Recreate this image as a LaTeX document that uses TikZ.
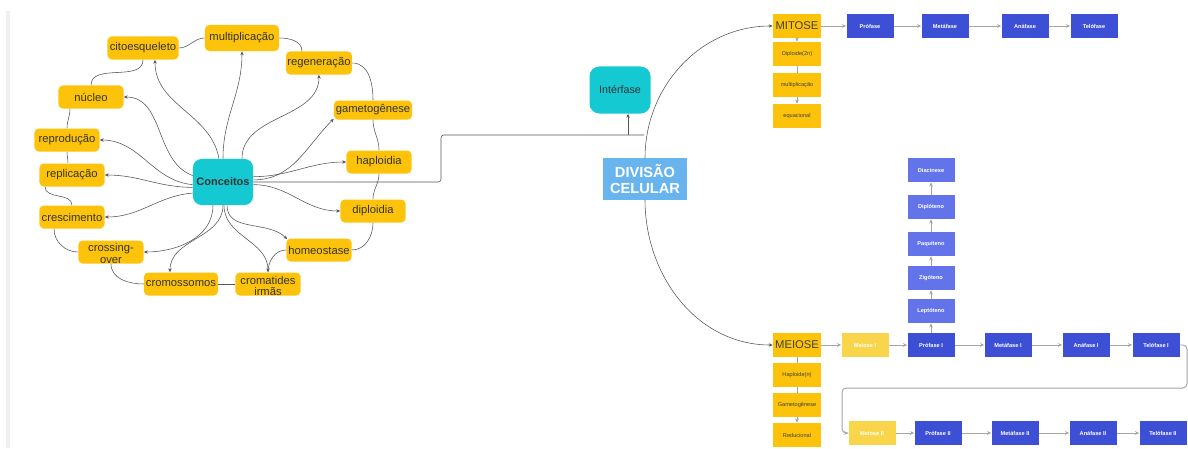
\documentclass[tikz,border=0pt]{standalone}
\usepackage{fontspec}
\setmainfont{Liberation Sans}
\usetikzlibrary{arrows.meta, positioning, calc}

\definecolor{mapyellow}{RGB}{253, 195, 10}
\definecolor{paleyellow}{RGB}{248, 213, 74}
\definecolor{mapcyan}{RGB}{20, 201, 209}
\definecolor{divblue}{RGB}{104, 180, 238}
\definecolor{phaseblue}{RGB}{61, 79, 213}
\definecolor{subblue}{RGB}{99, 116, 235}
\definecolor{linkgray}{RGB}{85, 85, 85}
\definecolor{flowgray}{RGB}{165, 165, 165}

\tikzset{
  concept/.style={fill=mapyellow, rounded corners=3pt, minimum width=1.625cm, minimum height=0.575cm, inner sep=1pt, text=black!80, font=\fontsize{8}{8.5}\selectfont},
  hub/.style={fill=mapcyan, rounded corners=6pt, inner sep=1pt, text=black!80},
  stage/.style={fill=mapyellow, minimum width=1.2cm, minimum height=0.6cm, inner sep=0pt, text=black!75, font=\fontsize{4}{5}\selectfont},
  phase/.style={fill=phaseblue, minimum width=1.175cm, minimum height=0.6cm, inner sep=0pt, text=white, font=\fontsize{4}{5}\selectfont\bfseries},
  subphase/.style={phase, fill=subblue},
  meiosis/.style={phase, fill=paleyellow},
  link/.style={draw=linkgray, line width=0.4pt},
  arr/.style={link, -{Stealth[length=2.8pt, width=2.4pt]}},
  flow/.style={draw=flowgray, line width=0.7pt, -{Stealth[length=3pt, width=2.6pt]}},
}

\begin{document}
\begin{tikzpicture}[x=0.025cm, y=0.025cm]
  \useasboundingbox (0,0) rectangle (1188,-448);
  \fill[gray!12] (6,-11) rectangle (10,-448);

  % Concept map
  \node[hub, minimum width=1.5cm, minimum height=1.15cm, font=\fontsize{7.8}{9}\selectfont\bfseries] (conc) at (223,-182) {Conceitos};
  \node[concept, minimum width=1.775cm] (cito) at (143,-48) {citoesqueleto};
  \node[concept, minimum width=1.85cm, minimum height=0.65cm] (mult) at (242,-38) {multiplicação};
  \node[concept] (regen) at (319,-63) {regeneração};
  \node[concept] (nucleo) at (91,-97) {núcleo};
  \node[concept, minimum width=1.95cm, minimum height=0.475cm] (gamet) at (373,-110) {gametogênese};
  \node[concept] (repro) at (67,-140) {reprodução};
  \node[concept] (haplo) at (379,-162) {haploidia};
  \node[concept] (repli) at (72,-175) {replicação};
  \node[concept] (cresc) at (72,-217) {crescimento};
  \node[concept] (diplo) at (373,-211) {diploidia};
  \node[concept, path picture={\node[align=center, inner sep=0pt] at ([yshift=-1pt]path picture bounding box.center) {crossing-\\over};}] (cross) at (111,-252) {};
  \node[concept, minimum width=1.85cm] (cromo) at (181,-284) {cromossomos};
  \node[concept, path picture={\node[align=center, inner sep=0pt] at ([yshift=-1.4pt]path picture bounding box.center) {cromatides\\irmãs};}] (cromat) at (268,-284) {};
  \node[concept] (homeo) at (319,-250) {homeostase};

  % arrows out of Conceitos
  \draw[arr] (conc.north) to[out=90, in=-90] (mult.south);
  \draw[arr] ($(conc.north)+(-4,0)$) to[out=100, in=-90] ($(cito.south)+(12,0)$);
  \draw[arr] ($(conc.north)+(19,0)$) to[out=90, in=-90] (regen.south);
  \draw[arr] (conc.168) to[out=160, in=0] (nucleo.east);
  \draw[arr] (conc.185) to[out=175, in=0] (repro.east);
  \draw[arr] (conc.190) to[out=180, in=0] (repli.east);
  \draw[arr] (conc.200) to[out=185, in=0] (cresc.east);
  \draw[arr] ($(conc.south)+(-10,0)$) to[out=-90, in=0] (cross.east);
  \draw[arr] (conc.south) to[out=-90, in=90] ($(cromo.north)+(-11,0)$);
  \draw[arr] ($(conc.south)+(1,0)$) to[out=-90, in=90] (cromat.north);
  \draw[arr] ($(conc.south)+(4,0)$) to[out=-90, in=135] ($(homeo.north west)+(1,-1)$);
  \draw[arr] (conc.-5) to[out=0, in=180] (diplo.west);
  \draw[arr] (conc.10) to[out=0, in=180] (haplo.west);
  \draw[arr] (conc.4) to[out=0, in=225] ($(gamet.south west)+(0,1)$);

  % ring round the concepts
  \draw[link] (cito.east) to[out=0, in=180] (mult.west);
  \draw[link] (mult.east) to[out=0, in=90] ($(regen.north)+(-17,0)$);
  \draw[link] (regen.east) to[out=0, in=90] (gamet.north);
  \draw[link] (gamet.south) to[out=-90, in=90] (haplo.north);
  \draw[link] (haplo.south) to[out=-90, in=90] (diplo.north);
  \draw[link] (diplo.south) to[out=-90, in=0] (homeo.east);
  \draw[link] (homeo.west) to[out=180, in=90] (cromat.north);
  \draw[link] (cromat.west) -- (cromo.east);
  \draw[link] (cromo.west) to[out=180, in=-90] (cross.south);
  \draw[link] (cross.west) to[out=180, in=-90] ($(cresc.south)+(-18,0)$);
  \draw[link] (cresc.north) to[out=90, in=-90] ($(repli.south)+(-27,0)$);
  \draw[link] ($(repli.north)+(-4,0)$) to[out=90, in=-90] (repro.south);
  \draw[link] (repro.north) to[out=90, in=-90] ($(nucleo.south)+(-21,0)$);
  \draw[link] (nucleo.north) to[out=90, in=-90] (cito.south);

  % Divisao celular
  \node[hub, minimum width=1.525cm, minimum height=1.175cm, rounded corners=7pt, font=\fontsize{7.6}{9}\selectfont] (interf) at (620,-90) {Intérfase};
  \node[fill=divblue, minimum width=2.1cm, minimum height=1.025cm, inner sep=0pt, align=center, text=white, font=\fontsize{10.4}{12}\selectfont\bfseries] (divisao) at (645,-179) {DIVISÃO\\CELULAR};

  \coordinate (elbow) at (441,-182);
  \coordinate (junc) at (628,-135);
  \coordinate (arcjoin) at (644,-135);
  \draw[link, rounded corners=2pt] (conc.east) -- (elbow) |- (arcjoin);
  \draw[arr] (junc) -- (junc |- interf.south);

  % Mitose
  \node[stage, font=\fontsize{8}{9}\selectfont] (mitose) at (797,-26) {MITOSE};
  \node[stage] (diploide) at (797,-54) {Diploide(2n)};
  \node[stage] (mmult) at (797,-85) {multiplicação};
  \node[stage] (equac) at (797,-116) {equacional};
  \node[phase] (prof) at (870,-26) {Prófase};
  \node[phase] (meta) at (945,-26) {Metáfase};
  \node[phase] (ana) at (1025,-26) {Anáfase};
  \node[phase] (telo) at (1094,-26) {Telófase};

  % Meiose
  \node[stage, font=\fontsize{8}{9}\selectfont] (meiose) at (797,-345) {MEIOSE};
  \node[stage] (haploide) at (797,-375) {Haploide(n)};
  \node[stage] (gameto) at (797,-405) {Gametogênese};
  \node[stage] (reduc) at (797,-435) {Reducional};
  \node[meiosis] (mei1) at (865,-345) {Meiose I};
  \node[phase] (prof1) at (931,-345) {Prófase I};
  \node[phase] (meta1) at (1008,-345) {Metáfase I};
  \node[phase] (ana1) at (1086,-345) {Anáfase I};
  \node[phase] (telo1) at (1156,-345) {Telófase I};
  \node[subphase] (lepto) at (931,-311) {Leptóteno};
  \node[subphase] (zigo) at (931,-278) {Zigóteno};
  \node[subphase] (paqui) at (931,-244) {Paquíteno};
  \node[subphase] (diplot) at (931,-207) {Diplóteno};
  \node[subphase] (diaci) at (931,-170) {Diacinese};
  \node[meiosis] (mei2) at (872,-433) {Meiose II};
  \node[phase] (prof2) at (938,-433) {Prófase II};
  \node[phase] (meta2) at (1015,-433) {Metáfase II};
  \node[phase] (ana2) at (1093,-433) {Anáfase II};
  \node[phase] (telo2) at (1163,-433) {Telófase II};

  \draw[arr] (divisao.north) to[out=90, in=180] (mitose.west);
  \draw[arr] (divisao.south) to[out=-90, in=180] (meiose.west);

  \foreach \a/\b in {mitose/prof, prof/meta, meta/ana, ana/telo,
                     meiose/mei1, mei1/prof1, prof1/meta1, meta1/ana1, ana1/telo1,
                     mei2/prof2, prof2/meta2, meta2/ana2, ana2/telo2}
    \draw[flow] (\a.east) -- (\b.west);
  \foreach \a/\b in {prof1/lepto, lepto/zigo, zigo/paqui, paqui/diplot, diplot/diaci}
    \draw[flow] (\a.north) -- (\b.south);

  \draw[flow] (mitose.south) -- (diploide.north);
  \draw[flow, -] (diploide.south) -- (mmult.north);
  \draw[flow] (mmult.south) -- (equac.north);
  \draw[flow, -] (meiose.south) -- (haploide.north);
  \draw[flow, -] (haploide.south) -- (gameto.north);
  \draw[flow] (gameto.south) -- (reduc.north);

  \coordinate (wrapR) at (1187,-388);
  \coordinate (wrapL) at (842,-388);
  \draw[flow, rounded corners=3pt] (telo1.east) -| (wrapR) -- (wrapL) |- (mei2.west);
\end{tikzpicture}
\end{document}
